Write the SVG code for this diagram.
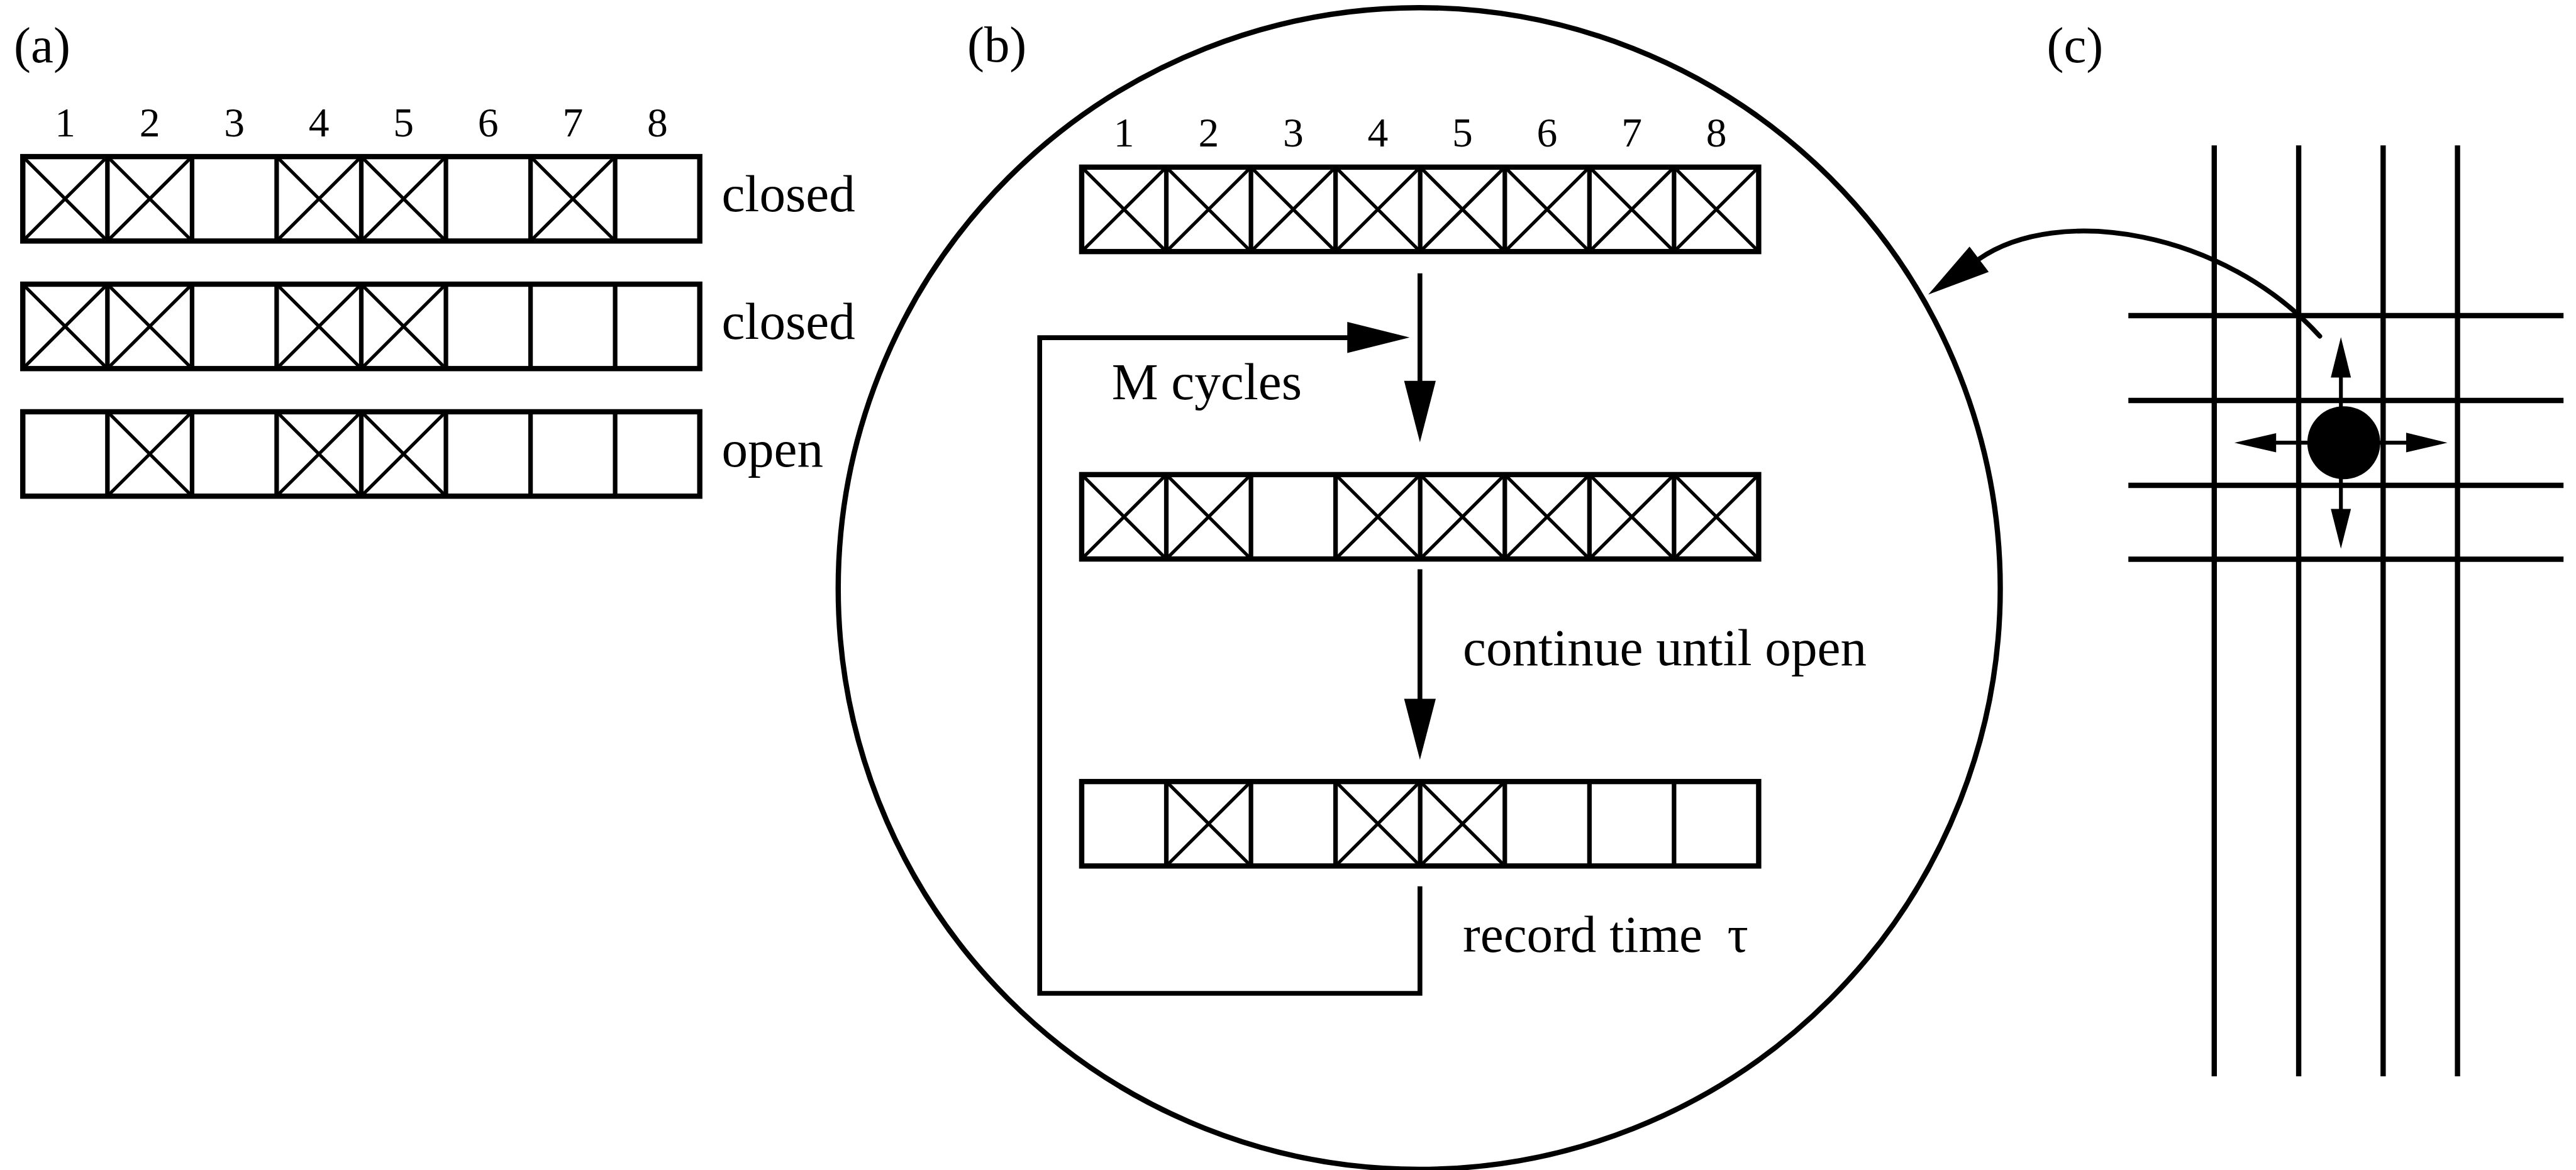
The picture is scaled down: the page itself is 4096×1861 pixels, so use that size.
<svg xmlns="http://www.w3.org/2000/svg" width="4096" height="1861" viewBox="0 0 4096 1861">
  <style>
    .frame-outer { fill: none; stroke: #000; stroke-width: 11; }
    .div { fill: none; stroke: #000; stroke-width: 9.5; }
    .diag { fill: none; stroke: #000; stroke-width: 7; }
    .ln { fill: none; stroke: #000; stroke-width: 10; }
    .thin { fill: none; stroke: #000; stroke-width: 8; }
    .grid { fill: none; stroke: #000; stroke-width: 11; }
    .head { fill: #000; stroke: none; }
    text { font-family: "Liberation Serif", "Times New Roman", serif; fill: #000; }
    .lbl { font-size: 109px; }
    .num { font-size: 86px; text-anchor: middle; }
    .tag { font-size: 106px; }
  </style>
  <defs>
    <!-- eight-site register: outline plus cell dividers -->
    <g id="frame">
      <rect class="frame-outer" x="0" y="0" width="1411" height="176"/>
      <path class="div" d="M176.4,0V176M352.8,0V176M529.1,0V176M705.5,0V176M881.9,0V176M1058.3,0V176M1234.6,0V176"/>
    </g>
    <!-- occupied site -->
    <path id="cross" class="diag" d="M0,0L176.4,176M176.4,0L0,176"/>
  </defs>

  <rect x="0" y="0" width="4096" height="1861" fill="#fff"/>

  <g transform="scale(0.7629)">
    <!-- panel (a) -->
    <g id="panel-a">
      <text class="tag" x="29" y="130">(a)</text>
      <g id="a-index" class="num-row">
        <text class="num" x="135.7" y="285">1</text>
        <text class="num" x="312.1" y="285">2</text>
        <text class="num" x="488.4" y="285">3</text>
        <text class="num" x="664.8" y="285">4</text>
        <text class="num" x="841.2" y="285">5</text>
        <text class="num" x="1017.5" y="285">6</text>
        <text class="num" x="1193.9" y="285">7</text>
        <text class="num" x="1370.3" y="285">8</text>
      </g>
      <g id="a-row1" transform="translate(47.5,326.5)">
        <use href="#cross" x="0"/>
        <use href="#cross" x="176.4"/>
        <use href="#cross" x="529.1"/>
        <use href="#cross" x="705.5"/>
        <use href="#cross" x="1058.3"/>
        <use href="#frame"/>
      </g>
      <g id="a-row2" transform="translate(47.5,592.5)">
        <use href="#cross" x="0"/>
        <use href="#cross" x="176.4"/>
        <use href="#cross" x="529.1"/>
        <use href="#cross" x="705.5"/>
        <use href="#frame"/>
      </g>
      <g id="a-row3" transform="translate(47.5,858.5)">
        <use href="#cross" x="176.4"/>
        <use href="#cross" x="529.1"/>
        <use href="#cross" x="705.5"/>
        <use href="#frame"/>
      </g>
      <text id="a-label1" class="lbl" x="1504" y="440">closed</text>
      <text id="a-label2" class="lbl" x="1504" y="706">closed</text>
      <text id="a-label3" class="lbl" x="1504" y="972">open</text>
    </g>

    <!-- panel (b): magnified view of one site -->
    <g id="panel-b">
      <text class="tag" x="2016" y="129">(b)</text>
      <circle id="b-lens" cx="2958" cy="1227" r="1211" fill="none" stroke="#000" stroke-width="11"/>
      <g id="b-index">
        <text class="num" x="2342.7" y="306">1</text>
        <text class="num" x="2519.1" y="306">2</text>
        <text class="num" x="2695.4" y="306">3</text>
        <text class="num" x="2871.8" y="306">4</text>
        <text class="num" x="3048.2" y="306">5</text>
        <text class="num" x="3224.5" y="306">6</text>
        <text class="num" x="3400.9" y="306">7</text>
        <text class="num" x="3577.3" y="306">8</text>
      </g>
      <g id="b-row1" transform="translate(2254.5,348.5)">
        <use href="#cross" x="0"/>
        <use href="#cross" x="176.4"/>
        <use href="#cross" x="352.8"/>
        <use href="#cross" x="529.1"/>
        <use href="#cross" x="705.5"/>
        <use href="#cross" x="881.9"/>
        <use href="#cross" x="1058.3"/>
        <use href="#cross" x="1234.6"/>
        <use href="#frame"/>
      </g>
      <g id="b-row2" transform="translate(2254.5,989.5)">
        <use href="#cross" x="0"/>
        <use href="#cross" x="176.4"/>
        <use href="#cross" x="529.1"/>
        <use href="#cross" x="705.5"/>
        <use href="#cross" x="881.9"/>
        <use href="#cross" x="1058.3"/>
        <use href="#cross" x="1234.6"/>
        <use href="#frame"/>
      </g>
      <g id="b-row3" transform="translate(2254.5,1629.5)">
        <use href="#cross" x="176.4"/>
        <use href="#cross" x="529.1"/>
        <use href="#cross" x="705.5"/>
        <use href="#frame"/>
      </g>
      <text id="b-cycles" class="lbl" x="2317" y="832">M cycles</text>
      <text id="b-continue" class="lbl" x="3049" y="1387">continue until open</text>
      <text id="b-record" class="lbl" x="3049" y="1985">record time<tspan x="3600">τ</tspan></text>
    </g>

    <!-- panel (c): lattice with a mobile particle -->
    <g id="panel-c">
      <text class="tag" x="4266" y="130">(c)</text>
      <g id="c-lattice">
        <path class="grid" d="M4615,303V2244M4791,303V2244M4967,303V2244M5122,303V2244"/>
        <path class="grid" d="M4436,658H5343M4436,835H5343M4436,1012H5343M4436,1166H5343"/>
      </g>
      <circle id="c-particle" cx="4885" cy="923" r="76" fill="#000"/>
    </g>

    <!-- connectors -->
    <g id="connectors">
      <path class="ln" d="M2959.5,570V800"/>
      <polygon class="head" points="2926.5,794 2992.5,794 2959.5,922"/>
      <path class="ln" d="M2959.5,1187V1462"/>
      <polygon class="head" points="2926.5,1457 2992.5,1457 2959.5,1584"/>
      <path class="ln" d="M2959.5,1848V2071H2167V704H2814"/>
      <polygon class="head" points="2808,671 2808,736 2938,703.5"/>
      <path class="ln" stroke-linecap="round" d="M4835,701C4634,479 4289,426 4125,540"/>
      <polygon class="head" points="4019,614 4105,514 4145,567"/>
      <g id="hops">
        <path class="thin" d="M4879,850V782"/>
        <polygon class="head" points="4858,787 4900,787 4879,703"/>
        <path class="thin" d="M4879,996V1066"/>
        <polygon class="head" points="4858,1061 4900,1061 4879,1144"/>
        <path class="thin" d="M4812,923H4738"/>
        <polygon class="head" points="4744,903 4744,943 4657,923"/>
        <path class="thin" d="M4958,923H5020"/>
        <polygon class="head" points="5015,902 5015,943 5101,923"/>
      </g>
    </g>
  </g>
</svg>
